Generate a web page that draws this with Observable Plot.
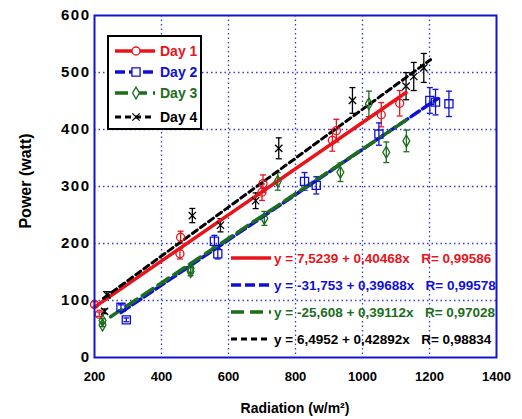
<!DOCTYPE html>
<html><head><meta charset="utf-8">
<script src="https://cdn.jsdelivr.net/npm/d3@7"></script>
<script src="https://cdn.jsdelivr.net/npm/@observablehq/plot@0.6"></script>
<style>
body{margin:0;background:#fff}
svg{font-family:"Liberation Sans",Arial,sans-serif}
</style>
</head><body><div id="chart"></div>
<script>
// ---- data ----
const seriesNames = ["Day 1", "Day 2", "Day 3", "Day 4"];
const day1X = [200, 214, 455, 457, 700, 703, 910, 922, 1056, 1111];
const day1Y = [93, 76, 182, 211, 290, 305, 381, 398, 426, 446];
const day2X = [279, 295, 558, 568, 827, 862, 1049, 1201, 1218, 1258];
const day2Y = [88, 66, 204, 182, 309, 302, 392, 451, 448, 445];
const day3X = [224, 224, 487, 487, 707, 747, 934, 1019, 1071, 1131];
const day3Y = [65, 57, 156, 151, 244, 309, 325, 445, 360, 380];
const day4X = [230, 237, 492, 576, 681, 750, 970, 1130, 1153, 1183];
const day4Y = [81, 110, 249, 232, 275, 367, 451, 476, 493, 508];
const errorFraction = 0.05;
const intercepts = [7.5239, -31.753, -25.608, 6.4952];
const slopes = [0.40468, 0.39688, 0.39112, 0.42892];
const rValues = [0.99586, 0.99578, 0.97028, 0.98834];
const fitStart = [200, 279, 248, 227];
const fitEnd = [1130, 1225, 1133, 1203];
const xTicks = [200, 400, 600, 800, 1000, 1200, 1400];
const yTicks = [0, 100, 200, 300, 400, 500, 600];
const xTitle = "Radiation (w/m²)";
const yTitle = "Power (watt)";

// ---- styles ----
const colors = ["#e8141c", "#1010d4", "#1b6e1b", "#000000"];
const dashes = [null, "10,4", "13,6", "6,4"];
const widths = [3.5, 3.5, 3.5, 3];
const symbols = ["circle", "square", "diamond", "times"];
const symbolR = [4, 4.6, 3.6, 3.4];

const xs = [day1X, day2X, day3X, day4X];
const ys = [day1Y, day2Y, day3Y, day4Y];
const points = [];
xs.forEach((arr, s) => arr.forEach((x, i) => points.push({s, x, y: ys[s][i], e: ys[s][i] * errorFraction})));
const fits = [];
seriesNames.forEach((n, s) => {
  fits.push({s, x: fitStart[s], y: intercepts[s] + slopes[s] * fitStart[s]});
  fits.push({s, x: fitEnd[s], y: intercepts[s] + slopes[s] * fitEnd[s]});
});
const dec = v => String(v).replace(".", ",");
const eqText = seriesNames.map((n, s) =>
  `y = ${intercepts[s] < 0 ? "-" : ""}${dec(Math.abs(intercepts[s]))} + ${dec(slopes[s])}x   R= ${dec(rValues[s])}`);

const capSymbol = {draw(ctx, size) { const w = Math.sqrt(size / Math.PI); ctx.moveTo(-w, 0); ctx.lineTo(w, 0); }};
const gridColor = "#3838d8";

const marks = [
  Plot.gridX(xTicks.slice(1, -1), {stroke: gridColor, strokeOpacity: 1, strokeWidth: 1.3, strokeDasharray: "1.5,3"}),
  Plot.gridY(yTicks.slice(1, -1), {stroke: gridColor, strokeOpacity: 1, strokeWidth: 1.3, strokeDasharray: "1.5,3"}),
];
seriesNames.forEach((n, s) => {
  const pts = points.filter(d => d.s === s);
  marks.push(Plot.ruleX(pts, {x: "x", y1: d => d.y - d.e, y2: d => d.y + d.e, stroke: colors[s], strokeWidth: 1.3}));
  marks.push(Plot.dot(pts, {x: "x", y: d => d.y - d.e, symbol: capSymbol, r: 3, stroke: colors[s], strokeWidth: 1.3}));
  marks.push(Plot.dot(pts, {x: "x", y: d => d.y + d.e, symbol: capSymbol, r: 3, stroke: colors[s], strokeWidth: 1.3}));
});
seriesNames.forEach((n, s) => {
  marks.push(Plot.line(fits.filter(d => d.s === s), {x: "x", y: "y", stroke: colors[s], strokeWidth: widths[s], strokeDasharray: dashes[s]}));
});
seriesNames.forEach((n, s) => {
  marks.push(Plot.dot(points.filter(d => d.s === s), {x: "x", y: "y", symbol: symbols[s], r: symbolR[s], stroke: colors[s], strokeWidth: 1.3, fill: "none"}));
});
marks.push(Plot.frame({stroke: "#1414d0", strokeWidth: 2}));
marks.push(Plot.axisX(xTicks, {tickSize: 0, tickPadding: 14, fontSize: 13, fontWeight: "bold", label: null, tickFormat: d => String(d)}));
marks.push(Plot.axisY(yTicks, {tickSize: 0, tickPadding: 4, fontSize: 15, fontWeight: "bold", label: null, tickFormat: d => String(d)}));

const chart = Plot.plot({
  width: 522, height: 419,
  marginLeft: 94, marginRight: 26, marginTop: 15, marginBottom: 62,
  x: {domain: [200, 1400]},
  y: {domain: [0, 600]},
  style: {background: "white", color: "black", fontFamily: "Liberation Sans, Arial, sans-serif", overflow: "visible"},
  marks
});
document.getElementById("chart").appendChild(chart);

const svg = d3.select(chart);
svg.selectAll("g[aria-label='y-axis tick label'] text").style("letter-spacing", "1.5px");

// axis titles
svg.append("text").attr("x", 295).attr("y", 413).attr("text-anchor", "middle")
  .attr("font-size", 14).attr("font-weight", "bold").text(xTitle);
svg.append("text").attr("transform", "translate(31,181) rotate(-90)").attr("text-anchor", "middle")
  .attr("font-size", 16).attr("font-weight", "bold").text(yTitle);

// series legend (top-left box)
const lg = svg.append("g").attr("text-anchor", "start");
lg.append("rect").attr("x", 108).attr("y", 36).attr("width", 93).attr("height", 93)
  .attr("fill", "white").attr("stroke", "black").attr("stroke-width", 2);
const legY = [51, 72, 93, 117];
const symMap = {circle: d3.symbolCircle, square: d3.symbolSquare, diamond: d3.symbolDiamond, times: d3.symbolTimes};
seriesNames.forEach((n, s) => {
  lg.append("line").attr("x1", 115).attr("x2", 155).attr("y1", legY[s]).attr("y2", legY[s])
    .attr("stroke", colors[s]).attr("stroke-width", widths[s]).attr("stroke-dasharray", dashes[s]);
  lg.append("path").attr("transform", `translate(136,${legY[s]})`)
    .attr("d", d3.symbol(symMap[symbols[s]], Math.PI * symbolR[s] * symbolR[s])())
    .attr("fill", "white").attr("stroke", colors[s]).attr("stroke-width", 1.3);
  lg.append("text").attr("x", 160).attr("y", legY[s] + 5).attr("font-size", 14).attr("font-weight", "bold")
    .attr("text-anchor", "start").attr("fill", colors[s]).text(n);
});

// equation legend
const eqY = [258, 285, 312, 339];
seriesNames.forEach((n, s) => {
  lg.append("line").attr("x1", 231).attr("x2", 271).attr("y1", eqY[s]).attr("y2", eqY[s])
    .attr("stroke", colors[s]).attr("stroke-width", widths[s]).attr("stroke-dasharray", dashes[s]);
  lg.append("text").attr("x", 274).attr("y", eqY[s] + 5).attr("font-size", 13.5).attr("font-weight", "bold")
    .attr("text-anchor", "start").attr("fill", colors[s]).style("white-space", "pre").text(eqText[s]);
});
</script>
</body></html>
